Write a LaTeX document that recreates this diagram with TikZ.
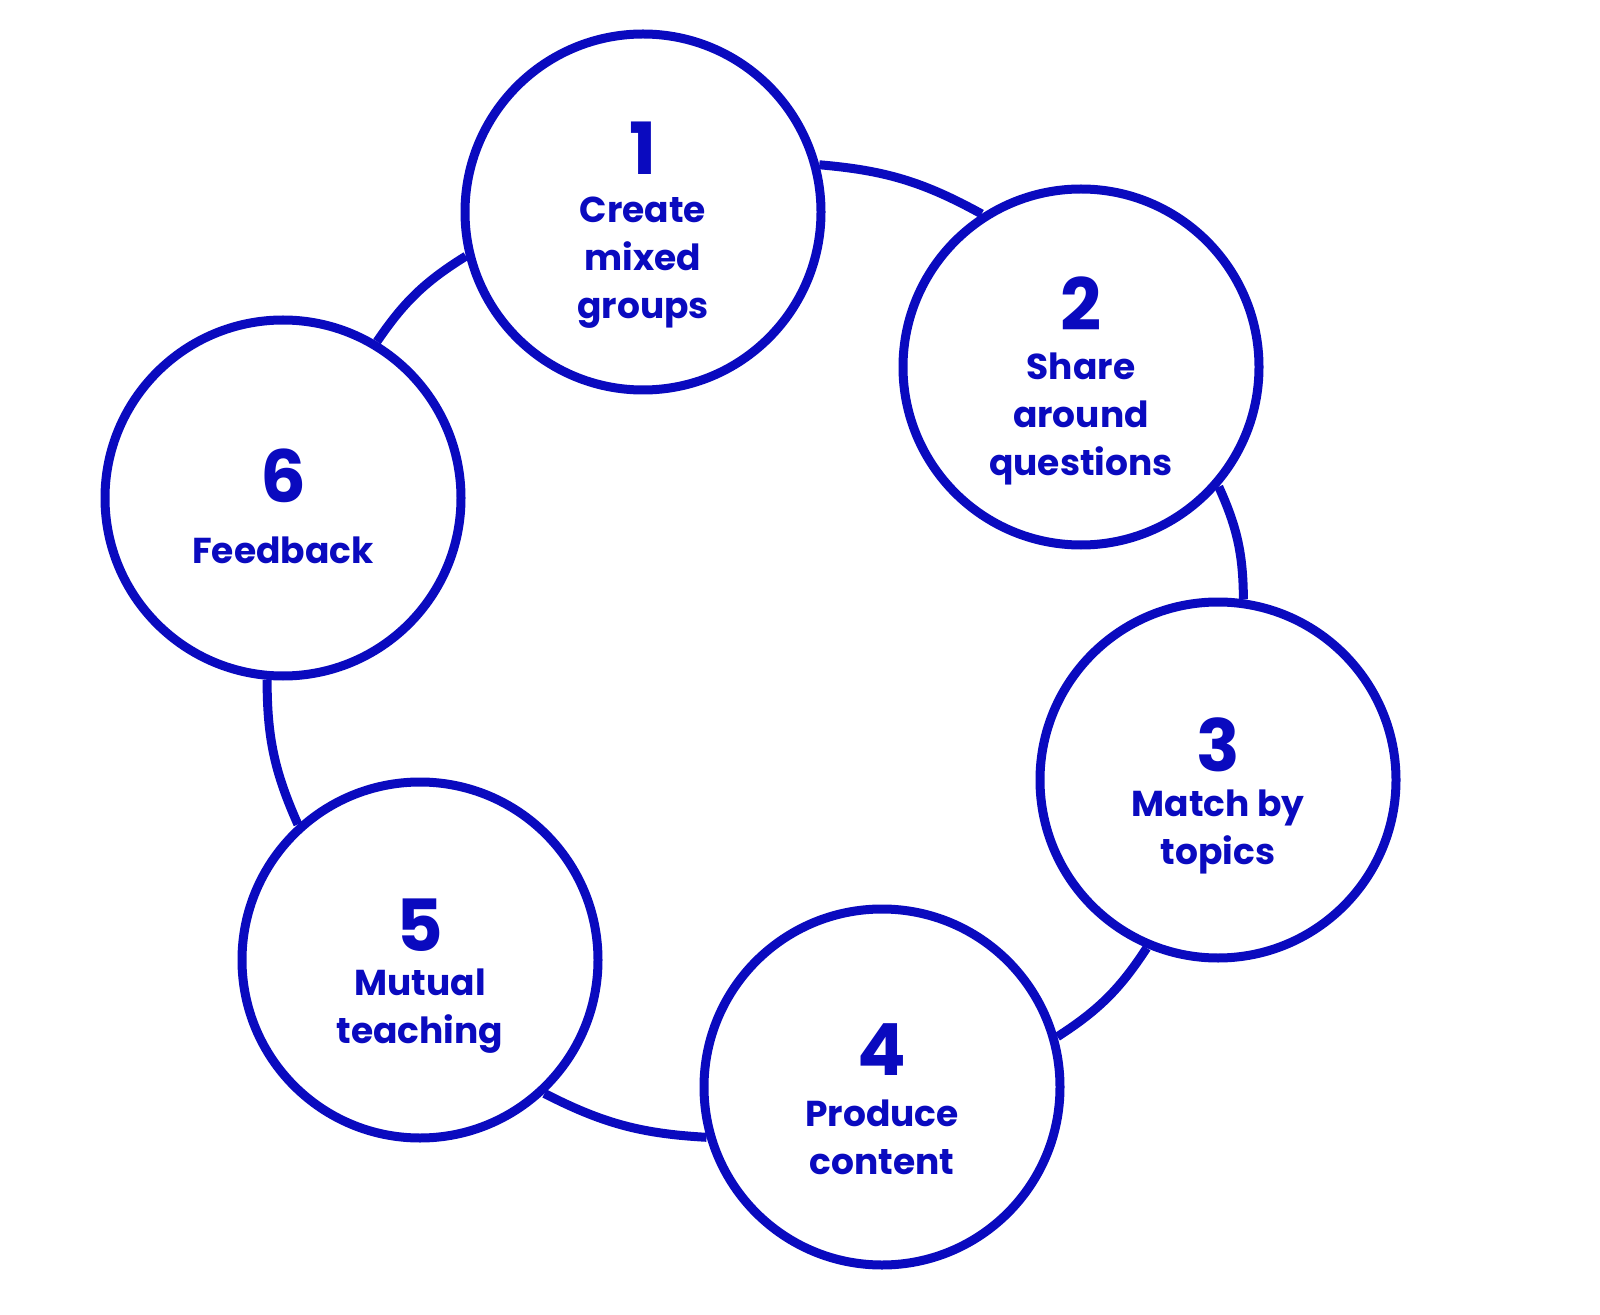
\documentclass[tikz,border=0pt]{standalone}
\usepackage{fontspec}
\setmainfont{Poppins}
\definecolor{cblue}{HTML}{0A0ABF}
\begin{document}
\begin{tikzpicture}[x=0.5pt,y=-0.5pt,
  ring/.style={circle,draw=cblue,line width=4.5pt,fill=white,minimum size=178pt,inner sep=0pt},
  num/.style={text=cblue,font=\bfseries\fontsize{36}{38}\selectfont,inner sep=0pt},
  lab/.style={text=cblue,font=\bfseries\fontsize{18}{24}\selectfont,align=center,inner sep=0pt},
  link/.style={draw=cblue,line width=4.5pt,bend left=12}]
\useasboundingbox (0,0) rectangle (1600,1315);
\node[ring] (c1) at (643,212) {};
\node[ring] (c2) at (1081,367) {};
\node[ring] (c3) at (1218,780) {};
\node[ring] (c4) at (882,1087) {};
\node[ring] (c5) at (420,960) {};
\node[ring] (c6) at (283,498) {};
\draw[link] (c1.15) to (c2.123);
\draw[link] (c2.-41) to (c3.82);
\draw[link] (c3.-113) to (c4.16);
\draw[link] (c4.-164) to (c5.-47);
\draw[link] (c5.132) to (c6.-95);
\draw[link] (c6.59) to (c1.-166);
\node[num] (n1) at (643,148) {1};
\node[lab] (l1) at (643,263) {Create\\mixed\\groups};
\node[num] (n2) at (1081,304) {2};
\node[lab] (l2) at (1081,419) {Share\\around\\questions};
\node[num] (n3) at (1218,745) {3};
\node[lab] (l3) at (1218,832) {Match by\\topics};
\node[num] (n4) at (882,1050) {4};
\node[lab] (l4) at (882,1137) {Produce\\content};
\node[num] (n5) at (420,925) {5};
\node[lab] (l5) at (420,1011) {Mutual\\teaching};
\node[num] (n6) at (283,476) {6};
\node[lab] (l6) at (283,550) {Feedback};
\end{tikzpicture}
\end{document}
